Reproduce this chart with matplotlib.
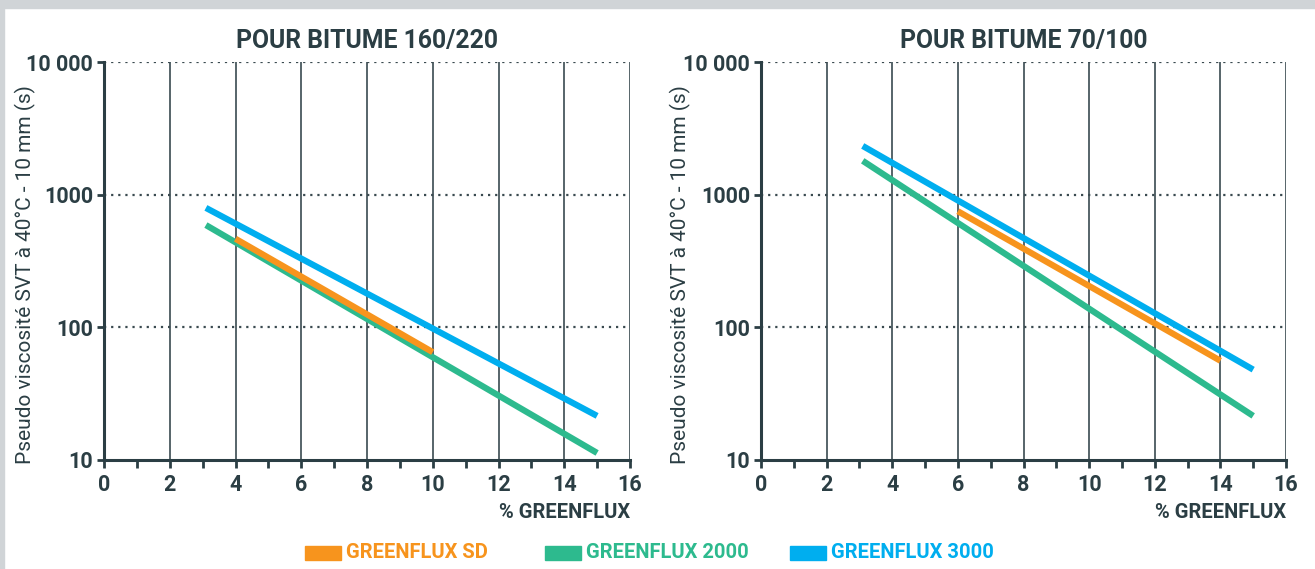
import numpy as np
import matplotlib
matplotlib.use('Agg')
import matplotlib.pyplot as plt
from matplotlib.patches import Rectangle
from matplotlib.ticker import FixedLocator, MultipleLocator

# series endpoints (x = % greenflux, y = viscosity in s)
series_names = ["GREENFLUX SD", "GREENFLUX 2000", "GREENFLUX 3000"]
series_colors = ["#F7941D", "#2DBA8E", "#00AEEF"]

left_x = [[4.0, 10.0], [3.1, 15.0], [3.1, 15.0]]
left_y = [[465, 65], [590, 11.3], [795, 21.5]]

right_x = [[6.0, 14.0], [3.1, 15.0], [3.1, 15.0]]
right_y = [[750, 56], [1800, 21.5], [2330, 48]]

titles = ["POUR BITUME 160/220", "POUR BITUME 70/100"]
y_ticks = [10, 100, 1000, 10000]
y_ticklabels = ["10", "100", "1000", "10 000"]
x_ticks = [0, 2, 4, 6, 8, 10, 12, 14, 16]

dark = "#2B3E44"
grid_col = "#3A4A50"

plt.rcParams['font.family'] = ['Roboto', 'DejaVu Sans']

fig = plt.figure(figsize=(13.15, 5.69), dpi=100)
fig.patch.set_facecolor("white")
# gray frame on top and left
fig.add_artist(Rectangle((0, 1 - 8/569), 1, 8/569, transform=fig.transFigure, color="#D0D4D7", zorder=0))
fig.add_artist(Rectangle((0, 0), 4/1315, 1, transform=fig.transFigure, color="#D0D4D7", zorder=0))

W, H = 1315, 569
boxes = [[104/W, (H-460)/H, 526/W, 398/H], [761/W, (H-460)/H, 525/W, 398/H]]
ylabel_x = [25, 680]

def draw_panel(ax, xs, ys, title, lx):
	ax.set_yscale('log')
	ax.set_xlim(0, 16)
	ax.set_ylim(10, 10000)
	for x in x_ticks[1:]:
		ax.axvline(x, color=grid_col, lw=1.2, zorder=1)
	for y in y_ticks[1:]:
		ax.axhline(y, color=grid_col, lw=1.6, ls=(0, (1, 2.2)), zorder=1)
	for i in range(3):
		ax.plot(xs[i], ys[i], color=series_colors[i], lw=4.5, solid_capstyle='butt', zorder=3 + (i == 0))
	for s in ['top', 'right']:
		ax.spines[s].set_visible(False)
	for s in ['left', 'bottom']:
		ax.spines[s].set_color(dark)
		ax.spines[s].set_linewidth(2.2)
	ax.xaxis.set_major_locator(FixedLocator(x_ticks))
	ax.xaxis.set_minor_locator(MultipleLocator(1))
	ax.set_xticklabels([str(x) for x in x_ticks])
	ax.yaxis.set_major_locator(FixedLocator(y_ticks))
	ax.yaxis.set_minor_locator(FixedLocator([]))
	ax.set_yticklabels(y_ticklabels)
	ax.tick_params(axis='x', which='both', direction='out', length=6, width=2, color=dark, pad=4,
		labelsize=15.5, labelcolor=dark)
	ax.tick_params(axis='y', which='major', direction='out', length=5, width=2, color=dark, pad=3,
		labelsize=15.5, labelcolor=dark)
	for lab in ax.get_xticklabels() + ax.get_yticklabels():
		lab.set_fontweight('bold')
	ax.set_title(title, fontsize=17.8, fontweight='bold', color=dark, pad=10)
	ax.set_xlabel("% GREENFLUX", fontsize=14.5, fontweight='bold', color=dark, loc='right', labelpad=5)
	fig.text(lx/W, (H-275)/H, "Pseudo viscosité SVT à 40°C - 10 mm (s)", fontsize=15, color=dark,
		rotation=90, ha='center', va='center')

ax1 = fig.add_axes(boxes[0])
draw_panel(ax1, left_x, left_y, titles[0], ylabel_x[0])
ax2 = fig.add_axes(boxes[1])
draw_panel(ax2, right_x, right_y, titles[1], ylabel_x[1])

# legend at the bottom
leg_x = [305, 545, 790]
for i in range(3):
	fig.add_artist(Rectangle((leg_x[i]/W, (H-560)/H), 36/W, 14/H, transform=fig.transFigure,
		color=series_colors[i]))
	fig.text((leg_x[i] + 41)/W, (H-553)/H, series_names[i], color=series_colors[i],
		fontsize=14.5, fontweight='bold', va='center', ha='left')

fig.savefig("out.png", dpi=100)
